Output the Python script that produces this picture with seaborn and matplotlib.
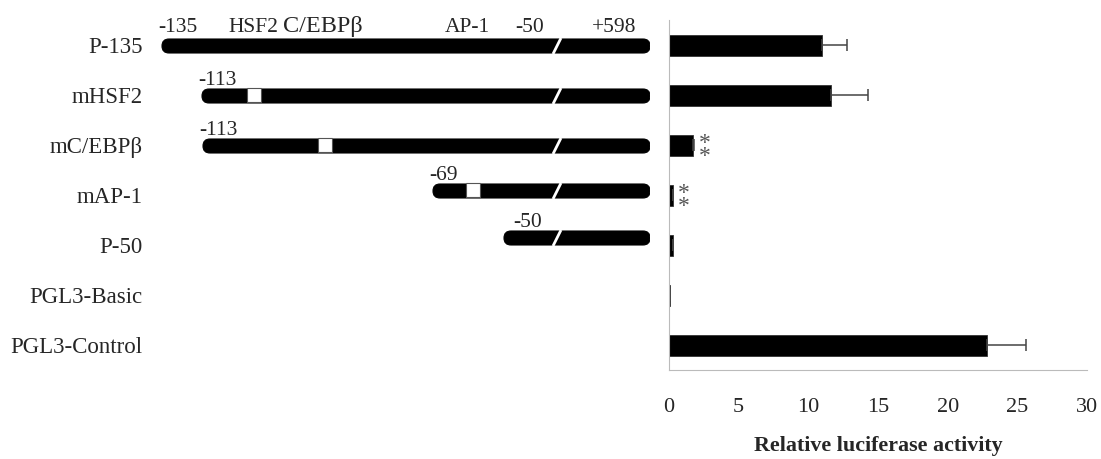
import matplotlib
matplotlib.use("Agg")
import matplotlib.pyplot as plt
import pandas as pd
import seaborn as sns
from matplotlib.patches import FancyBboxPatch, Rectangle

# Bar chart data
constructs = ["P-135", "mHSF2", "mC/EBPβ", "mAP-1", "P-50", "PGL3-Basic", "PGL3-Control"]
activity = [11.0, 11.6, 1.7, 0.3, 0.3, 0.1, 22.8]
activity_err = [1.8, 2.65, 0.12, 0.0, 0.0, 0.0, 2.85]
significant = [False, False, True, True, False, False, False]

# Promoter schematic (schematic units, not to scale)
pill_start = [162, 202, 203, 433, 504]
pill_end = 650
break_x = 557
mut_site = [None, 254, 325, 473, None]
start_label = [None, "-113", "-113", "-69", "-50"]
header_labels = ["-135", "HSF2", "C/EBPβ", "AP-1", "-50", "+598"]
header_x = [158, 228, 283, 445, 515, 592]

sns.set_style("white")
plt.rcParams["font.family"] = ["Liberation Serif", "DejaVu Serif"]

df = pd.DataFrame({"construct": constructs, "activity": activity, "err": activity_err})

fig = plt.figure(figsize=(11.01, 4.59), dpi=100)

# --- schematic panel (pixel-like coordinates) ---
axd = fig.add_axes([0, 0, 650 / 1101, 1])
axd.set_xlim(0, 650)
axd.set_ylim(459, 0)
axd.axis("off")

row_y = [45 + 50 * i for i in range(len(constructs))]
pill_shift = [1, 1, 1, -4, -7]
h = 14
for i, x0 in enumerate(pill_start):
    yc = row_y[i] + pill_shift[i]
    axd.add_patch(FancyBboxPatch((x0, yc - h / 2), pill_end - x0, h,
                                 boxstyle="round,pad=0,rounding_size=7",
                                 fc="black", ec="black", lw=0.8))
    # break mark
    axd.plot([break_x - 4, break_x + 4], [yc + h / 2 + 1, yc - h / 2 - 1],
             color="white", lw=2.0, solid_capstyle="butt")
    if mut_site[i] is not None:
        axd.add_patch(Rectangle((mut_site[i] - 7, yc - 8), 14, 14,
                                fc="white", ec="#555555", lw=0.8, zorder=3))
    if start_label[i] is not None:
        lx = x0 - 4 if i < 4 else x0 + 9
        axd.text(lx, yc - 11, start_label[i], fontsize=15.5, ha="left", va="baseline")

for lab, x in zip(header_labels, header_x):
    fs = 17.5 if lab == "C/EBPβ" else 15.5
    axd.text(x, 32, lab, fontsize=fs, ha="left", va="baseline")

# --- bar panel ---
ax = fig.add_axes([669 / 1101, 89 / 459, 418 / 1101, 350 / 459])
sns.barplot(data=df, x="activity", y="construct", orient="h", color="black",
            width=0.42, errorbar=None, ax=ax, edgecolor="#333333", linewidth=0.6)
ax.errorbar(df["activity"], range(len(constructs)),
            xerr=[[0] * len(constructs), df["err"]], fmt="none",
            ecolor="#444444", elinewidth=1.1, capsize=4, capthick=1.1)
for i, sig in enumerate(significant):
    if sig:
        x = activity[i] + activity_err[i] + 0.75
        ax.text(x, i + 0.1, "*\n*", fontsize=17, color="#555555", ha="center",
                va="center", linespacing=0.5)

ax.set_xlim(0, 30)
ax.set_ylim(6.5, -0.5)
ax.set_xticks(range(0, 31, 5))
ax.set_yticks(range(len(constructs)))
ax.set_yticklabels(constructs)
ax.set_yticks([i - 0.5 for i in range(len(constructs) + 1)], minor=True)
ax.tick_params(axis="y", which="major", length=0, pad=379, labelsize=16.5)
ax.tick_params(axis="y", which="minor", direction="in", length=7, color="#bbbbbb", width=0.8)
ax.tick_params(axis="x", direction="in", length=7, color="#bbbbbb", width=0.8,
               pad=20, labelsize=16)
for s in ["top", "right"]:
    ax.spines[s].set_visible(False)
for s in ["left", "bottom"]:
    ax.spines[s].set_color("#bbbbbb")
    ax.spines[s].set_linewidth(0.8)
ax.set_ylabel("")
ax.set_xlabel("Relative luciferase activity", fontsize=15.8, fontweight="bold", labelpad=14)

fig.savefig("out.png", dpi=100)
